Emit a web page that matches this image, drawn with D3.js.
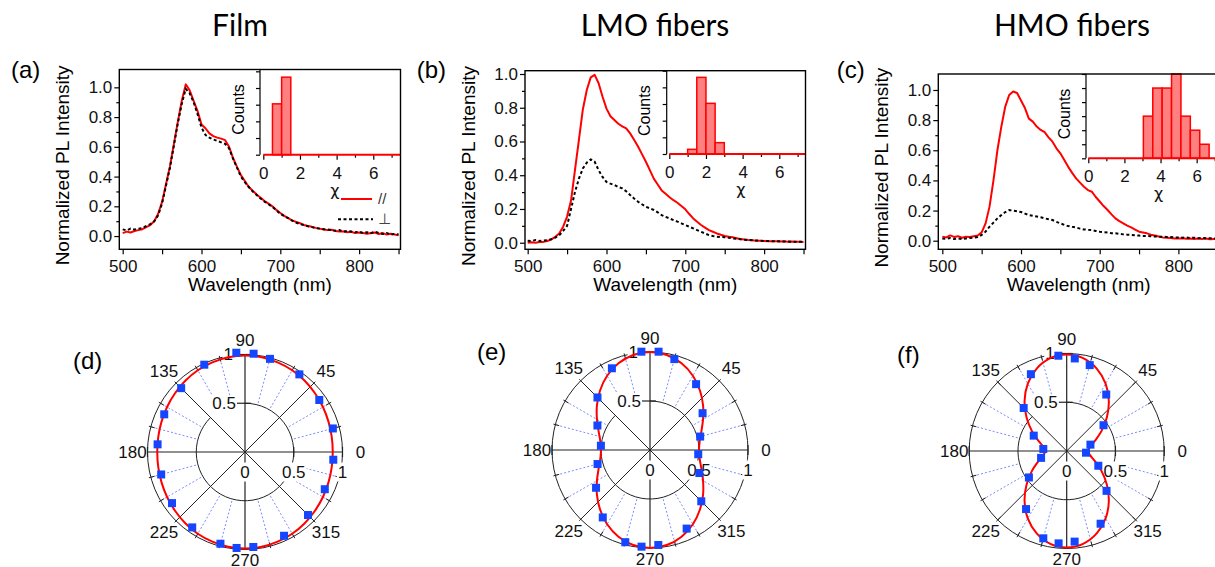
<!DOCTYPE html>
<html><head><meta charset="utf-8">
<script src="https://cdn.jsdelivr.net/npm/d3@7"></script>
<style>body{margin:0;background:#fff}svg{display:block}</style>
</head><body><svg id="chart" width="1215" height="567"></svg>
<script>
// ---------------- DATA ----------------
const titles = ["Film", "LMO fibers", "HMO fibers"];
const wavelengths = d3.range(500, 851, 5);           // sampling grid (nm)
const xMajorTicks = [500, 600, 700, 800];
const xMinorTicks = [550, 650, 750, 850];
const yMajorTicks = [0, 0.2, 0.4, 0.6, 0.8, 1.0];
const yMinorTicks = [0.1, 0.3, 0.5, 0.7, 0.9];

const redA = [
0.020,0.030,0.024,0.034,0.040,0.046,0.060,0.074,0.100,0.150,
0.230,0.350,0.470,0.620,0.770,0.910,1.020,0.980,0.910,0.840,
0.750,0.725,0.690,0.672,0.662,0.655,0.645,0.600,0.525,0.465,
0.410,0.370,0.330,0.305,0.280,0.258,0.235,0.218,0.200,0.176,
0.155,0.136,0.120,0.106,0.095,0.086,0.075,0.068,0.062,0.055,
0.050,0.044,0.040,0.042,0.034,0.030,0.031,0.025,0.029,0.020,
0.024,0.020,0.015,0.021,0.024,0.014,0.020,0.010,0.016,0.010,
0.006];
const blackA = [
0.045,0.038,0.050,0.044,0.050,0.054,0.068,0.080,0.100,0.140,
0.220,0.340,0.460,0.610,0.760,0.890,0.990,0.960,0.900,0.820,
0.730,0.680,0.662,0.650,0.640,0.630,0.620,0.590,0.520,0.460,
0.400,0.362,0.330,0.300,0.276,0.252,0.232,0.214,0.196,0.172,
0.150,0.134,0.121,0.104,0.091,0.080,0.074,0.066,0.060,0.054,
0.050,0.046,0.044,0.040,0.036,0.040,0.030,0.035,0.030,0.025,
0.030,0.020,0.026,0.019,0.030,0.020,0.014,0.021,0.010,0.015,
0.010];
const redB = [
0.000,0.003,0.000,0.004,0.005,0.010,0.020,0.035,0.055,0.095,
0.155,0.250,0.430,0.610,0.790,0.905,0.980,0.995,0.945,0.865,
0.795,0.750,0.727,0.705,0.690,0.678,0.648,0.610,0.570,0.525,
0.480,0.430,0.380,0.345,0.310,0.290,0.270,0.252,0.237,0.218,
0.198,0.170,0.144,0.124,0.105,0.090,0.075,0.065,0.055,0.047,
0.040,0.036,0.032,0.027,0.022,0.019,0.016,0.014,0.012,0.011,
0.010,0.009,0.008,0.009,0.007,0.008,0.006,0.007,0.006,0.006,
0.005];
const blackB = [
0.012,0.010,0.016,0.010,0.013,0.015,0.020,0.030,0.045,0.070,
0.100,0.200,0.300,0.380,0.440,0.475,0.494,0.480,0.430,0.390,
0.360,0.350,0.342,0.330,0.322,0.305,0.283,0.262,0.243,0.228,
0.213,0.204,0.194,0.180,0.164,0.153,0.144,0.134,0.125,0.115,
0.105,0.095,0.085,0.075,0.065,0.055,0.045,0.040,0.036,0.034,
0.032,0.029,0.026,0.024,0.020,0.018,0.016,0.015,0.013,0.012,
0.010,0.010,0.009,0.008,0.008,0.007,0.007,0.006,0.006,0.006,
0.006];
const redC = [
0.027,0.022,0.035,0.025,0.030,0.020,0.027,0.024,0.030,0.035,
0.055,0.115,0.226,0.400,0.600,0.757,0.890,0.967,0.990,0.980,
0.930,0.880,0.810,0.790,0.757,0.735,0.720,0.686,0.657,0.613,
0.580,0.535,0.490,0.450,0.414,0.385,0.358,0.336,0.325,0.290,
0.260,0.230,0.204,0.175,0.148,0.130,0.115,0.100,0.088,0.074,
0.060,0.055,0.049,0.040,0.035,0.028,0.022,0.020,0.018,0.015,
0.015,0.017,0.013,0.015,0.012,0.015,0.012,0.014,0.010,0.012,
0.011];
const blackC = [
0.015,0.012,0.018,0.012,0.015,0.010,0.015,0.018,0.020,0.025,
0.038,0.060,0.093,0.120,0.148,0.170,0.190,0.203,0.200,0.196,
0.190,0.180,0.170,0.165,0.160,0.155,0.148,0.143,0.137,0.125,
0.115,0.105,0.097,0.092,0.088,0.080,0.075,0.072,0.070,0.065,
0.060,0.057,0.055,0.050,0.049,0.045,0.042,0.040,0.038,0.036,
0.034,0.032,0.031,0.030,0.028,0.027,0.027,0.025,0.024,0.022,
0.022,0.020,0.021,0.018,0.020,0.017,0.018,0.016,0.017,0.015,
0.015];

// histograms of chi (bin edges, counts in inset tick units)
const chiEdgesA = [0.5, 1.0, 1.5];
const countsA = [3.05, 4.65];
const chiEdgesB = [1.0, 1.5, 2.0, 2.5, 3.0];
const countsB = [0.28, 4.6, 3.04, 0.68];
const chiEdgesC = [3.05, 3.57, 4.09, 4.61, 5.13, 5.65, 6.17, 6.69];
const countsC = [3, 5, 5, 6, 3, 2, 1];
const chiMajorTicks = [0, 2, 4, 6];
const chiMinorTicks = [1, 3, 5, 7];

// polar data: polarizer angle (deg) and normalized intensity
const polarAngles = [15,35,55,75,85,95,115,135,155,175,195,215,235,255,265,275,295,315,335,355];
const pointsD = [0.933,0.930,0.972,0.989,1.012,1.022,0.988,0.926,0.914,0.900,0.890,0.914,0.944,0.974,0.988,0.978,0.948,0.914,0.903,0.909];
const pointsE = [0.530,0.655,0.820,0.960,1.007,1.007,0.920,0.758,0.592,0.503,0.554,0.672,0.840,0.974,0.990,0.973,0.885,0.740,0.556,0.494];
const pointsF = [0.252,0.461,0.707,0.912,0.953,0.981,0.869,0.624,0.373,0.241,0.272,0.473,0.727,0.927,0.951,0.933,0.823,0.578,0.358,0.199];
// red fit curves read at 10-degree steps 0..350
const fitAngles = d3.range(0, 360, 10);
const fitD = [0.900,0.903,0.911,0.923,0.937,0.953,0.968,0.979,0.987,0.990,0.987,0.979,0.968,0.953,0.937,0.923,0.911,0.903,
              0.900,0.903,0.911,0.923,0.937,0.953,0.968,0.979,0.987,0.990,0.987,0.979,0.968,0.953,0.937,0.923,0.911,0.903];
const fitE = [0.500,0.515,0.558,0.625,0.707,0.793,0.875,0.941,0.985,1.000,0.985,0.941,0.875,0.793,0.707,0.625,0.558,0.515,
              0.500,0.515,0.558,0.625,0.707,0.793,0.875,0.941,0.985,1.000,0.985,0.941,0.875,0.793,0.707,0.625,0.558,0.515];
const fitF = [0.220,0.243,0.310,0.413,0.538,0.672,0.798,0.900,0.967,0.990,0.967,0.900,0.798,0.672,0.538,0.413,0.310,0.243,
              0.220,0.243,0.310,0.413,0.538,0.672,0.798,0.900,0.967,0.990,0.967,0.900,0.798,0.672,0.538,0.413,0.310,0.243];
const angleLabels = [0, 45, 90, 135, 180, 225, 270, 315];
const gridAngles = [15,30,60,75,105,120,150,165,195,210,240,255,285,300,330,345];

// ---------------- LAYOUT ----------------
const FONT = '"Liberation Sans", Arial, sans-serif';
const RED = "#ff0000";
const svg = d3.select("#chart");
svg.append("rect").attr("width", 1215).attr("height", 567).attr("fill", "#fff");

const titlePos = [[240, 36], [655, 36], [1072, 36]];
titles.forEach((t, i) => {
  svg.append("text").attr("x", titlePos[i][0]).attr("y", titlePos[i][1])
    .attr("text-anchor", "middle").attr("font-family", "Lato, 'Open Sans', sans-serif")
    .attr("font-size", 30).attr("fill", "#000").text(t);
});

const spectra = [
  {red: redA, black: blackA, left: 119.3, right: 400.5, top: 69.5, bottom: 249.3,
   xDomain: [495.7, 852.5], yDomain: [-0.089, 1.12], label: "(a)", lx: 11, ly: 78.3,
   inset: {left: 260, base: 154.7, xDomain: [-0.18, 7.485], yMax: 5.11, edges: chiEdgesA, counts: countsA}, legend: true},
  {red: redB, black: blackB, left: 525, right: 805.5, top: 70.7, bottom: 249.3,
   xDomain: [496.6, 852.5], yDomain: [-0.039, 1.0196], label: "(b)", lx: 416.7, ly: 78.3,
   inset: {left: 666.7, base: 154, xDomain: [-0.142, 7.43], yMax: 5.0, edges: chiEdgesB, counts: countsB}},
  {red: redC, black: blackC, left: 938.3, right: 1219, top: 74, bottom: 249.3,
   xDomain: [494.9, 851.6], yDomain: [-0.057, 1.106], label: "(c)", lx: 836.7, ly: 78.3,
   inset: {left: 1086, base: 158.3, xDomain: [-0.127, 7.237], yMax: 6.0, edges: chiEdgesC, counts: countsC}}
];

function styleAxis(sel, fs) {
  sel.attr("font-family", FONT).attr("font-size", fs);
  sel.select(".domain").remove();
  sel.selectAll(".tick line").attr("stroke", "#000").attr("stroke-width", 1.2);
  sel.selectAll(".tick text").attr("fill", "#111");
}

spectra.forEach((p, pi) => {
  const g = svg.append("g");
  const x = d3.scaleLinear().domain(p.xDomain).range([p.left, p.right]);
  const y = d3.scaleLinear().domain(p.yDomain).range([p.bottom, p.top]);
  const clipId = "clip" + pi;
  svg.append("clipPath").attr("id", clipId).append("rect")
    .attr("x", p.left).attr("y", p.top).attr("width", p.right - p.left).attr("height", p.bottom - p.top);

  // axes
  g.append("g").attr("transform", `translate(0,${p.bottom})`)
    .call(d3.axisBottom(x).tickValues(xMajorTicks).tickSize(5).tickPadding(6).tickSizeOuter(0)).call(s => styleAxis(s, 17));
  g.append("g").attr("transform", `translate(0,${p.bottom})`)
    .call(d3.axisBottom(x).tickValues(xMinorTicks).tickSize(5).tickFormat("").tickSizeOuter(0)).call(s => styleAxis(s, 17));
  g.append("g").attr("transform", `translate(${p.left},0)`)
    .call(d3.axisLeft(y).tickValues(yMajorTicks).tickFormat(d3.format(".1f")).tickSize(5).tickPadding(2).tickSizeOuter(0)).call(s => styleAxis(s, 17));
  g.append("g").attr("transform", `translate(${p.left},0)`)
    .call(d3.axisLeft(y).tickValues(yMinorTicks).tickFormat("").tickSize(3).tickSizeOuter(0)).call(s => styleAxis(s, 17));

  // data lines
  const line = d3.line().x((d, i) => x(wavelengths[i])).y(d => y(d));
  const lg = g.append("g").attr("clip-path", `url(#${clipId})`);
  lg.append("path").datum(p.red).attr("d", line).attr("fill", "none")
    .attr("stroke", RED).attr("stroke-width", 2).attr("stroke-linejoin", "round");
  lg.append("path").datum(p.black).attr("d", line).attr("fill", "none")
    .attr("stroke", "#000").attr("stroke-width", 2).attr("stroke-dasharray", "3,2.5");

  // inset histogram
  const ins = p.inset;
  const ix = d3.scaleLinear().domain(ins.xDomain).range([ins.left, p.right]);
  const iy = d3.scaleLinear().domain([0, ins.yMax]).range([ins.base, p.top]);
  g.append("rect").attr("x", ins.left).attr("y", p.top).attr("width", p.right - ins.left)
    .attr("height", ins.base - p.top).attr("fill", "#fff");
  const bars = ins.counts.map((c, i) => ({x0: ins.edges[i], x1: ins.edges[i + 1], c}));
  g.selectAll(null).data(bars).enter().append("rect")
    .attr("x", d => ix(d.x0)).attr("width", d => ix(d.x1) - ix(d.x0))
    .attr("y", d => iy(d.c)).attr("height", d => iy(0) - iy(d.c))
    .attr("fill", "#ff8080").attr("stroke", RED).attr("stroke-width", 1.5);
  // inset axes
  const ig = g.append("g");
  ig.append("g").attr("transform", `translate(0,${ins.base})`)
    .call(d3.axisBottom(ix).tickValues(chiMajorTicks).tickSize(5).tickPadding(7).tickFormat(d3.format("d")).tickSizeOuter(0))
    .call(s => styleAxis(s, 17));
  ig.append("g").attr("transform", `translate(0,${ins.base})`)
    .call(d3.axisBottom(ix).tickValues(chiMinorTicks).tickSize(3).tickFormat("").tickSizeOuter(0))
    .call(s => styleAxis(s, 17));
  const cTicks = d3.range(0, ins.yMax + 0.001, 1);
  ig.append("g").attr("transform", `translate(${ins.left},0)`)
    .call(d3.axisLeft(iy).tickValues(cTicks).tickSize(4).tickFormat("").tickSizeOuter(0))
    .call(s => styleAxis(s, 17));
  ig.append("line").attr("x1", ins.left).attr("x2", ins.left).attr("y1", p.top).attr("y2", ins.base)
    .attr("stroke", "#000").attr("stroke-width", 1.2);
  ig.append("line").attr("x1", ix(0)).attr("x2", p.right).attr("y1", iy(0)).attr("y2", iy(0))
    .attr("stroke", RED).attr("stroke-width", 2);
  ig.append("text").attr("x", ix(3.9)).attr("y", ins.base + 41).attr("text-anchor", "middle")
    .attr("font-family", "'DejaVu Sans', sans-serif").attr("font-size", 16).attr("fill", "#111").text("χ");
  ig.append("text").attr("transform", `translate(${ins.left - 22},${p.top + 40}) rotate(-90)`)
    .attr("text-anchor", "middle").attr("dominant-baseline", "central")
    .attr("font-family", FONT).attr("font-size", 16).text("Counts");

  // frame
  g.append("rect").attr("x", p.left).attr("y", p.top).attr("width", p.right - p.left)
    .attr("height", p.bottom - p.top).attr("fill", "none").attr("stroke", "#000").attr("stroke-width", 1.4);

  // labels
  g.append("text").attr("x", (p.left + p.right) / 2).attr("y", 291).attr("text-anchor", "middle")
    .attr("font-family", FONT).attr("font-size", 19).text("Wavelength (nm)");
  g.append("text").attr("transform", `translate(${p.left - 56.5},${(p.top + p.bottom) / 2 + 6}) rotate(-90)`)
    .attr("text-anchor", "middle").attr("dominant-baseline", "central")
    .attr("font-family", FONT).attr("font-size", 19).text("Normalized PL Intensity");
  g.append("text").attr("x", p.lx).attr("y", p.ly).attr("font-family", FONT).attr("font-size", 24).text(p.label);

  if (p.legend) {
    g.append("line").attr("x1", 341).attr("x2", 372).attr("y1", 199).attr("y2", 199)
      .attr("stroke", RED).attr("stroke-width", 2);
    g.append("text").attr("x", 378).attr("y", 203.5).attr("font-family", FONT).attr("font-size", 15)
      .attr("fill", "#333").text("//");
    g.append("line").attr("x1", 338).attr("x2", 373).attr("y1", 219.3).attr("y2", 219.3)
      .attr("stroke", "#000").attr("stroke-width", 2).attr("stroke-dasharray", "3,2.5");
    g.append("text").attr("x", 378).attr("y", 224).attr("font-family", "DejaVu Sans, sans-serif").attr("font-size", 15)
      .attr("fill", "#444").text("⊥");
  }
});

// ---------------- POLAR PLOTS ----------------
const polars = [
  {cx: 245, cy: 452, R: 97.5, pts: pointsD, fit: fitD, label: "(d)", lx: 73, ly: 369.3},
  {cx: 650, cy: 450, R: 98, pts: pointsE, fit: fitE, label: "(e)", lx: 477, ly: 360},
  {cx: 1066.7, cy: 451, R: 97.5, pts: pointsF, fit: fitF, label: "(f)", lx: 897, ly: 363.3}
];
const labelOffset = {0: 18, 45: 17, 90: 14, 135: 17, 180: 15, 225: 17, 270: 11, 315: 17};

polars.forEach(p => {
  svg.append("text").attr("x", p.lx).attr("y", p.ly).attr("font-family", FONT).attr("font-size", 24).text(p.label);
  const g = svg.append("g").attr("transform", `translate(${p.cx},${p.cy})`);
  const r = d3.scaleLinear().domain([0, 1]).range([0, p.R]);
  const rad = deg => deg * Math.PI / 180;
  const px = (deg, v) => r(v) * Math.cos(rad(deg));
  const py = (deg, v) => -r(v) * Math.sin(rad(deg));
  const stroke = "#222";

  // dotted grid
  g.selectAll(null).data(gridAngles).enter().append("line")
    .attr("x1", d => px(d, 0.52)).attr("y1", d => py(d, 0.52))
    .attr("x2", d => px(d, 1)).attr("y2", d => py(d, 1))
    .attr("stroke", "#7d8cff").attr("stroke-width", 1).attr("stroke-dasharray", "2,2");
  // outer circle
  g.append("circle").attr("r", r(1)).attr("fill", "none").attr("stroke", stroke).attr("stroke-width", 1);
  // outer ticks
  g.selectAll(null).data(gridAngles.concat([45, 135, 225, 315])).enter().append("line")
    .attr("x1", d => px(d, 1) - 4 * Math.cos(rad(d))).attr("y1", d => py(d, 1) + 4 * Math.sin(rad(d)))
    .attr("x2", d => px(d, 1) + 2 * Math.cos(rad(d))).attr("y2", d => py(d, 1) - 2 * Math.sin(rad(d)))
    .attr("stroke", stroke).attr("stroke-width", 1);
  // 0.5 arc (from 90 deg clockwise round to 135 deg)
  const path = d3.path();
  path.arc(0, 0, r(0.5), -Math.PI / 2, -Math.PI / 2 + rad(315), false);
  g.append("path").attr("d", path.toString()).attr("fill", "none").attr("stroke", stroke).attr("stroke-width", 1);
  // diagonal radial lines
  g.selectAll(null).data([45, 135, 225, 315]).enter().append("line")
    .attr("x1", 0).attr("y1", 0).attr("x2", d => px(d, 1)).attr("y2", d => py(d, 1))
    .attr("stroke", stroke).attr("stroke-width", 1);
  // horizontal and vertical axes
  g.append("line").attr("x1", -r(1)).attr("x2", r(1)).attr("y1", 0).attr("y2", 0).attr("stroke", stroke).attr("stroke-width", 1.2);
  g.append("line").attr("x1", 0).attr("x2", 0).attr("y1", -r(1)).attr("y2", r(1)).attr("stroke", stroke).attr("stroke-width", 1.2);
  // axis ticks
  [0.5, 1].forEach(v => {
    g.append("line").attr("x1", r(v)).attr("x2", r(v)).attr("y1", -5).attr("y2", 5).attr("stroke", stroke).attr("stroke-width", 1.2);
    g.append("line").attr("x1", -8).attr("x2", 6).attr("y1", -r(v)).attr("y2", -r(v)).attr("stroke", stroke).attr("stroke-width", 1.2);
  });
  g.append("line").attr("x1", -r(1)).attr("x2", -r(1)).attr("y1", -5).attr("y2", 5).attr("stroke", stroke).attr("stroke-width", 1.2);

  // angle labels
  g.selectAll(null).data(angleLabels).enter().append("text")
    .attr("x", d => (r(1) + labelOffset[d]) * Math.cos(rad(d)))
    .attr("y", d => -(r(1) + labelOffset[d]) * Math.sin(rad(d)))
    .attr("text-anchor", "middle").attr("dominant-baseline", "central")
    .attr("font-family", FONT).attr("font-size", 17).attr("fill", "#111").text(d => d);

  // radial labels
  const hl = [{v: 0, t: "0"}, {v: 0.5, t: "0.5"}, {v: 1, t: "1"}];
  hl.forEach(d => {
    const t = g.append("text").attr("x", r(d.v)).attr("y", 20).attr("text-anchor", "middle")
      .attr("dominant-baseline", "central").attr("font-family", FONT).attr("font-size", 17).attr("fill", "#111").text(d.t);
    const bb = t.node().getBBox();
    g.insert("rect", () => t.node()).attr("x", bb.x - 1).attr("y", bb.y).attr("width", bb.width + 2)
      .attr("height", bb.height).attr("fill", "#fff");
  });
  [{v: 0.5, t: "0.5", dx: -9}, {v: 1, t: "1", dx: -12}].forEach(d => {
    const t = g.append("text").attr("x", d.dx).attr("y", -r(d.v)).attr("text-anchor", "end")
      .attr("dominant-baseline", "central").attr("font-family", FONT).attr("font-size", 17).attr("fill", "#111").text(d.t);
    const bb = t.node().getBBox();
    g.insert("rect", () => t.node()).attr("x", bb.x - 1).attr("y", bb.y + 2).attr("width", bb.width + 2)
      .attr("height", bb.height - 4).attr("fill", "#fff");
  });

  // fit curve
  const radial = d3.lineRadial()
    .angle((d, i) => rad(90 - fitAngles[i]))
    .radius(d => r(d))
    .curve(d3.curveCatmullRomClosed);
  g.append("path").datum(p.fit).attr("d", radial).attr("fill", "none")
    .attr("stroke", RED).attr("stroke-width", 2);

  // data points
  g.selectAll(null).data(p.pts).enter().append("rect")
    .attr("x", (d, i) => px(polarAngles[i], d) - 4).attr("y", (d, i) => py(polarAngles[i], d) - 4)
    .attr("width", 8).attr("height", 8).attr("fill", "#1446ff");
});
</script>
</body></html>
